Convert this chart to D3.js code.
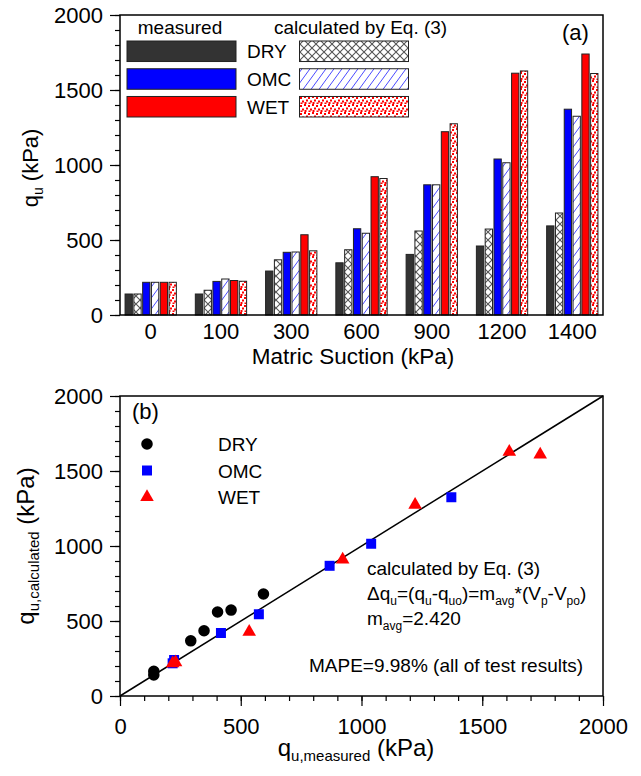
<!DOCTYPE html>
<html>
<head>
<meta charset="utf-8">
<script src="https://cdn.jsdelivr.net/npm/d3@7"></script>
<style>
  body { margin: 0; background: #fff; }
  svg { display: block; font-family: "Liberation Sans", Arial, sans-serif; }
  .axis text { font-size: 22px; fill: #000; }
  .axis line { stroke: #000; stroke-width: 1.2; }
  .axis path { display: none; }
</style>
</head>
<body>
<div id="chart"></div>
<script>
// data
const suction = ["0", "100", "300", "600", "900", "1200", "1400"]
const dryMeasured = [140, 140, 293, 348, 404, 460, 594]
const dryCalculated = [140, 165, 368, 435, 560, 573, 680]
const omcMeasured = [218, 224, 418, 575, 868, 1040, 1372]
const omcCalculated = [218, 240, 420, 545, 868, 1015, 1325]
const wetMeasured = [218, 230, 535, 922, 1222, 1612, 1740]
const wetCalculated = [218, 225, 428, 910, 1275, 1627, 1610]
const qTicks = [0, 500, 1000, 1500, 2000]
const minorTicks = d3.range(0, 2001, 100)

const W = 641, H = 776
const fmt = d3.format("d")

const svg = d3.select("#chart").append("svg")
  .attr("width", W)
  .attr("height", H)

// ---- patterns
const defs = svg.append("defs")

const cross = defs.append("pattern").attr("id", "cross")
  .attr("patternUnits", "userSpaceOnUse").attr("width", 8).attr("height", 8)
cross.append("rect").attr("width", 8).attr("height", 8).attr("fill", "#fff")
cross.append("path").attr("d", "M0,0L8,8M8,0L0,8")
  .attr("stroke", "#555").attr("stroke-width", 1.1)

const hatch = defs.append("pattern").attr("id", "hatch")
  .attr("patternUnits", "userSpaceOnUse").attr("width", 8).attr("height", 11)
hatch.append("rect").attr("width", 8).attr("height", 11).attr("fill", "#fff")
hatch.append("path").attr("d", "M0,11L8,0M-2,2.75L2,-2.75M6,13.75L10,8.25")
  .attr("stroke", "#4a4aff").attr("stroke-width", 1)

const dots = defs.append("pattern").attr("id", "dots")
  .attr("patternUnits", "userSpaceOnUse").attr("width", 8).attr("height", 8)
dots.append("rect").attr("width", 8).attr("height", 8).attr("fill", "#fff")
const dotPos = [[0, 0], [4, 1], [2, 3.5], [6, 4.5], [0.5, 6], [4.5, 6.5]]
dots.selectAll("rect.d").data(dotPos).enter().append("rect")
  .attr("class", "d")
  .attr("x", d => d[0]).attr("y", d => d[1])
  .attr("width", 2).attr("height", 2).attr("fill", "#ff0000")

// ================= panel (a)
const xA = d3.scaleBand()
  .domain(suction)
  .range([120, 603])
  .paddingInner(0.27)
  .paddingOuter(0.072)

const series = [
  { key: "dryM", values: dryMeasured, fill: "#333333" },
  { key: "dryC", values: dryCalculated, fill: "url(#cross)" },
  { key: "omcM", values: omcMeasured, fill: "#0000ff" },
  { key: "omcC", values: omcCalculated, fill: "url(#hatch)" },
  { key: "wetM", values: wetMeasured, fill: "#ff0000" },
  { key: "wetC", values: wetCalculated, fill: "url(#dots)" }
]

const xSub = d3.scaleBand()
  .domain(series.map(s => s.key))
  .range([0, xA.bandwidth()])
  .paddingInner(0.17)

const yA = d3.scaleLinear().domain([0, 2000]).range([315, 15])

const gA = svg.append("g")

const barData = []
series.forEach(s => {
  s.values.forEach((v, i) => barData.push({ cat: suction[i], key: s.key, value: v, fill: s.fill }))
})

gA.selectAll("rect.bar")
  .data(barData)
  .enter().append("rect")
  .attr("class", "bar")
  .attr("x", d => xA(d.cat) + xSub(d.key))
  .attr("y", d => yA(d.value))
  .attr("width", xSub.bandwidth())
  .attr("height", d => yA(0) - yA(d.value))
  .attr("fill", d => d.fill)
  .attr("stroke", "#222")
  .attr("stroke-width", 1)

// axes (a)
gA.append("g").attr("class", "axis")
  .attr("transform", "translate(120,0)")
  .call(d3.axisLeft(yA).tickValues(minorTicks).tickSize(5).tickFormat(""))
gA.append("g").attr("class", "axis")
  .attr("transform", "translate(120,0)")
  .call(d3.axisLeft(yA).tickValues(qTicks).tickSize(10).tickPadding(7).tickFormat(fmt))
gA.append("g").attr("class", "axis")
  .attr("transform", "translate(0,315)")
  .call(d3.axisBottom(xA).tickSize(0).tickPadding(8))

gA.append("rect")
  .attr("x", 120).attr("y", 15).attr("width", 483).attr("height", 300)
  .attr("fill", "none").attr("stroke", "#000").attr("stroke-width", 1.5)

// legend (a)
const legRows = ["DRY", "OMC", "WET"]
const legY = d3.scaleBand().domain(legRows).range([41, 117]).paddingInner(0.26)
gA.append("text").attr("x", 180).attr("y", 34).attr("text-anchor", "middle")
  .attr("font-size", 19).text("measured")
gA.append("text").attr("x", 274).attr("y", 34)
  .attr("font-size", 19).text("calculated by Eq. (3)")
legRows.forEach((r, i) => {
  gA.append("rect").attr("x", 127).attr("y", legY(r)).attr("width", 109).attr("height", legY.bandwidth())
    .attr("fill", series[i * 2].fill).attr("stroke", "#222")
  gA.append("rect").attr("x", 299.5).attr("y", legY(r)).attr("width", 109).attr("height", legY.bandwidth())
    .attr("fill", series[i * 2 + 1].fill).attr("stroke", "#222")
  gA.append("text").attr("x", 247).attr("y", legY(r) + legY.bandwidth() / 2 + 7)
    .attr("font-size", 19).text(r)
})
gA.append("text").attr("x", 562).attr("y", 40).attr("font-size", 22).text("(a)")

// axis titles (a)
gA.append("text").attr("x", 353).attr("y", 364).attr("text-anchor", "middle")
  .attr("font-size", 22.5).text("Matric Suction (kPa)")
const yTitleA = gA.append("text")
  .attr("transform", "translate(38,168) rotate(-90)")
  .attr("text-anchor", "middle").attr("font-size", 22)
yTitleA.append("tspan").text("q")
yTitleA.append("tspan").attr("font-size", 14).attr("dy", 5).text("u")
yTitleA.append("tspan").attr("dy", -5).text(" (kPa)")

// ================= panel (b)
const xB = d3.scaleLinear().domain([0, 2000]).range([120, 603])
const yB = d3.scaleLinear().domain([0, 2000]).range([696, 396])
const gB = svg.append("g")

gB.append("g").attr("class", "axis")
  .attr("transform", "translate(120,0)")
  .call(d3.axisLeft(yB).tickValues(minorTicks).tickSize(5).tickFormat(""))
gB.append("g").attr("class", "axis")
  .attr("transform", "translate(120,0)")
  .call(d3.axisLeft(yB).tickValues(qTicks).tickSize(10).tickPadding(7).tickFormat(fmt))
gB.append("g").attr("class", "axis")
  .attr("transform", "translate(0,696)")
  .call(d3.axisBottom(xB).tickValues(minorTicks).tickSize(5).tickFormat(""))
gB.append("g").attr("class", "axis")
  .attr("transform", "translate(0,696)")
  .call(d3.axisBottom(xB).tickValues(qTicks).tickSize(10).tickPadding(12).tickFormat(fmt))

gB.append("rect")
  .attr("x", 120).attr("y", 396).attr("width", 483).attr("height", 300)
  .attr("fill", "none").attr("stroke", "#000").attr("stroke-width", 1.5)

// 1:1 line
gB.append("line")
  .attr("x1", xB(0)).attr("y1", yB(0))
  .attr("x2", xB(2000)).attr("y2", yB(2000))
  .attr("stroke", "#000").attr("stroke-width", 1.5)

const pointSets = [
  { name: "DRY", meas: dryMeasured, calc: dryCalculated, type: d3.symbolCircle, size: 105, color: "#000" },
  { name: "OMC", meas: omcMeasured, calc: omcCalculated, type: d3.symbolSquare, size: 100, color: "#0000ff" },
  { name: "WET", meas: wetMeasured, calc: wetCalculated, type: d3.symbolTriangle, size: 80, color: "#ff0000" }
]

pointSets.forEach(s => {
  gB.selectAll(null)
    .data(s.meas.map((m, i) => [m, s.calc[i]]))
    .enter().append("path")
    .attr("d", d3.symbol().type(s.type).size(s.size))
    .attr("transform", d => `translate(${xB(d[0])},${yB(d[1])})`)
    .attr("fill", s.color)
})

// legend (b)
const legYB = d3.scalePoint().domain(legRows).range([444, 497])
pointSets.forEach(s => {
  gB.append("path")
    .attr("d", d3.symbol().type(s.type).size(s.size))
    .attr("transform", `translate(147,${legYB(s.name)})`)
    .attr("fill", s.color)
  gB.append("text").attr("x", 218).attr("y", legYB(s.name) + 7)
    .attr("font-size", 19).text(s.name)
})
gB.append("text").attr("x", 132).attr("y", 419).attr("font-size", 22).text("(b)")

// annotation
gB.append("text").attr("x", 367).attr("y", 575).attr("font-size", 19).text("calculated by Eq. (3)")
const eq = gB.append("text").attr("x", 367).attr("y", 600).attr("font-size", 19)
eq.append("tspan").text("\u0394q")
eq.append("tspan").attr("font-size", 12).attr("dy", 5).text("u")
eq.append("tspan").attr("dy", -5).text("=(q")
eq.append("tspan").attr("font-size", 12).attr("dy", 5).text("u")
eq.append("tspan").attr("dy", -5).text("-q")
eq.append("tspan").attr("font-size", 12).attr("dy", 5).text("uo")
eq.append("tspan").attr("dy", -5).text(")=m")
eq.append("tspan").attr("font-size", 12).attr("dy", 5).text("avg")
eq.append("tspan").attr("dy", -5).text("*(V")
eq.append("tspan").attr("font-size", 12).attr("dy", 5).text("p")
eq.append("tspan").attr("dy", -5).text("-V")
eq.append("tspan").attr("font-size", 12).attr("dy", 5).text("po")
eq.append("tspan").attr("dy", -5).text(")")
const mv = gB.append("text").attr("x", 367).attr("y", 625).attr("font-size", 19)
mv.append("tspan").text("m")
mv.append("tspan").attr("font-size", 12).attr("dy", 5).text("avg")
mv.append("tspan").attr("dy", -5).text("=2.420")
gB.append("text").attr("x", 309).attr("y", 672).attr("font-size", 19)
  .text("MAPE=9.98% (all of test results)")

// axis titles (b)
const xTitleB = gB.append("text").attr("x", 356).attr("y", 756)
  .attr("text-anchor", "middle").attr("font-size", 24)
xTitleB.append("tspan").text("q")
xTitleB.append("tspan").attr("font-size", 15).attr("dy", 5).text("u,measured")
xTitleB.append("tspan").attr("dy", -5).text(" (kPa)")

const yTitleB = gB.append("text")
  .attr("transform", "translate(34,546) rotate(-90)")
  .attr("text-anchor", "middle").attr("font-size", 24)
yTitleB.append("tspan").text("q")
yTitleB.append("tspan").attr("font-size", 15).attr("dy", 5).text("u,calculated")
yTitleB.append("tspan").attr("dy", -5).text(" (kPa)")
</script>
</body>
</html>
